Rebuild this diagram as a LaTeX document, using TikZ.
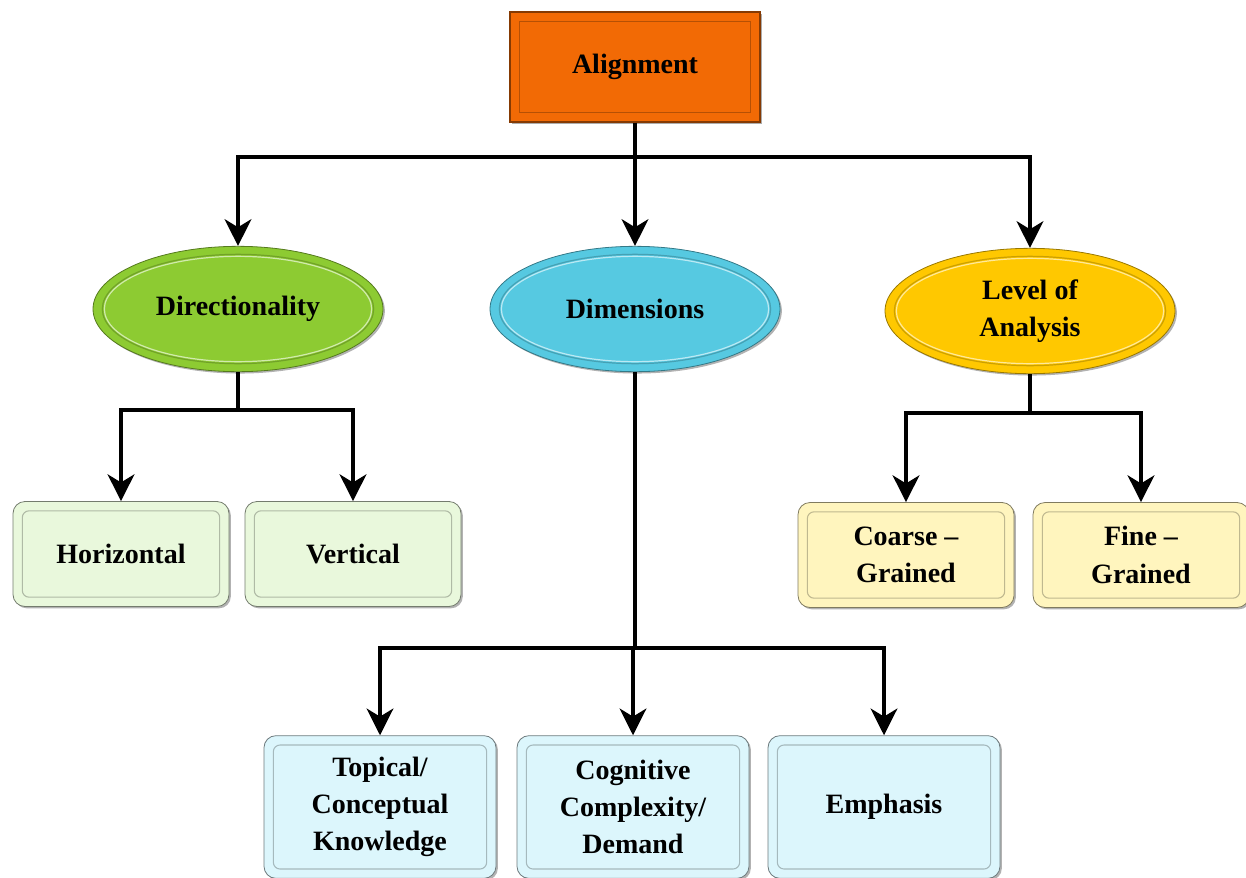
\documentclass[tikz,border=0pt]{standalone}
\usepackage{fontspec}
\setmainfont{Liberation Serif}
\usetikzlibrary{calc,arrows.meta,shadows,shapes.geometric}
\definecolor{orangeA}{RGB}{242,106,5}
\definecolor{greenA}{RGB}{141,203,50}
\definecolor{cyanA}{RGB}{86,201,225}
\definecolor{yellowA}{RGB}{255,200,0}
\definecolor{greenL}{RGB}{233,248,220}
\definecolor{yellowL}{RGB}{255,245,190}
\definecolor{cyanL}{RGB}{220,246,252}

\begin{document}
\begin{tikzpicture}[x=0.75pt,y=-0.75pt,
  font=\fontsize{21}{28}\selectfont\bfseries,
  link/.style={line width=3pt},
  arr/.style={link,-{Stealth[length=20pt,width=20pt,inset=6pt]}},
  topbox/.style={rectangle,fill=orangeA,draw=orangeA!55!black,line width=0.8pt,
    minimum width=187.5pt,minimum height=82.5pt,align=center,
    drop shadow={shadow xshift=1.4pt,shadow yshift=-1.4pt,fill=black!65},
    path picture={\draw[orangeA!75!black,line width=1pt]
      ([shift={(7pt,-7pt)}]path picture bounding box.north west) rectangle
      ([shift={(-7pt,7pt)}]path picture bounding box.south east);}},
  oval/.style={ellipse,fill=#1,draw=#1!60!black,line width=0.6pt,inner sep=0pt,
    minimum width=217.5pt,minimum height=94pt,align=center,
    drop shadow={shadow xshift=1.4pt,shadow yshift=-1.4pt,fill=black!60},
    path picture={\draw[#1!80!black,line width=0.9pt]
      let \p1=(path picture bounding box.north east),
          \p2=(path picture bounding box.center) in
      (\p2) ellipse [x radius=\x1-\x2-7pt,y radius=\y1-\y2-6pt];
      \draw[white!60!#1,line width=0.9pt]
      let \p1=(path picture bounding box.north east),
          \p2=(path picture bounding box.center) in
      (\p2) ellipse [x radius=\x1-\x2-8.5pt,y radius=\y1-\y2-7.5pt];}},
  leaf/.style={rectangle,rounded corners=9pt,fill=#1,draw=#1!50!black,line width=0.6pt,
    minimum width=162pt,minimum height=78.75pt,align=center,
    drop shadow={shadow xshift=1.4pt,shadow yshift=-1.4pt,fill=black!60},
    path picture={\draw[#1!75!black,line width=0.8pt,rounded corners=5pt]
      ([shift={(7pt,-7pt)}]path picture bounding box.north west) rectangle
      ([shift={(-7pt,7pt)}]path picture bounding box.south east);}},
  bigleaf/.style={leaf=#1,minimum width=174pt,minimum height=107pt}
  ]
  \useasboundingbox (0,0) rectangle (1246,878);

  \node (align) [topbox] at (635,67) {Alignment};

  \node (dir) [oval=greenA] at (238,309) {Directionality};
  \node (dim) [oval=cyanA] at (635,309) {Dimensions};
  \node (loa) [oval=yellowA] at (1030,311) {Level of\\Analysis};

  \node (hor) [leaf=greenL] at (121,554) {Horizontal};
  \node (ver) [leaf=greenL] at (353,554) {Vertical};

  \node (coarse) [leaf=yellowL] at (906,555) {Coarse --\\Grained};
  \node (fine) [leaf=yellowL] at (1141,555) {Fine --\\Grained};

  \node (topic) [bigleaf=cyanL] at (380,807) {Topical/\\Conceptual\\Knowledge};
  \node (cogn) [bigleaf=cyanL] at (633,807) {Cognitive\\Complexity/\\Demand};
  \node (emph) [bigleaf=cyanL] at (884,807) {Emphasis};

  \coordinate (ja) at (635,157);
  \coordinate (jd) at (238,410);
  \coordinate (jm) at (635,648);
  \coordinate (jl) at (1030,413);

  \draw[link] (align) -- (ja);
  \draw[arr] (ja) -| (dir);
  \draw[arr] (ja) -- (dim);
  \draw[arr] (ja) -| (loa);

  \draw[link] (dir) -- (jd);
  \foreach \n in {hor,ver} {
    \draw[arr] (jd) -| (\n);
  }

  \draw[link] (loa) -- (jl);
  \foreach \n in {coarse,fine} {
    \draw[arr] (jl) -| (\n);
  }

  \draw[link] (dim) -- (jm);
  \foreach \n in {topic,cogn,emph} {
    \draw[arr] (jm) -| (\n);
  }
\end{tikzpicture}
\end{document}
